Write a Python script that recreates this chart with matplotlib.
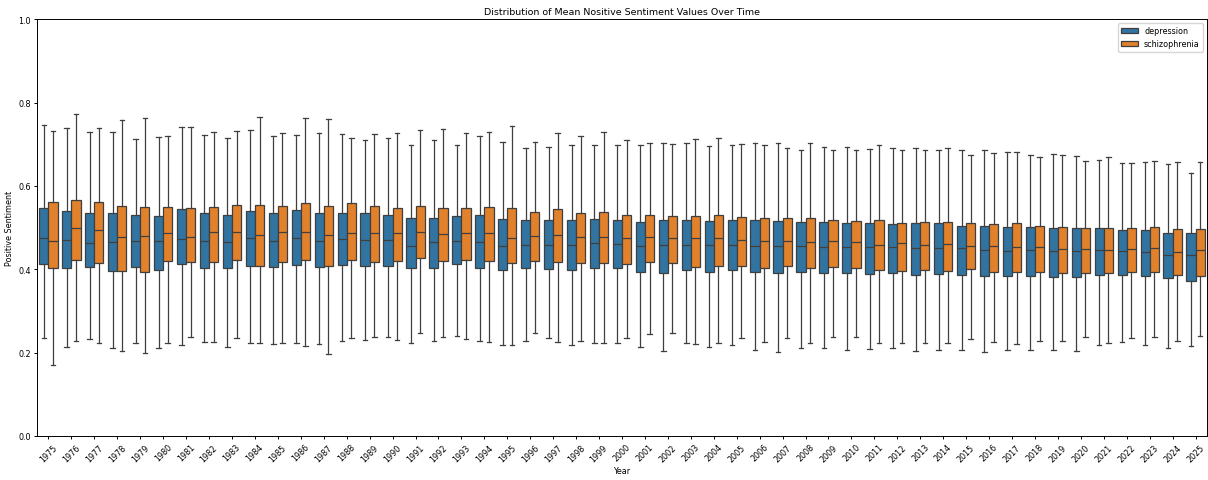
import matplotlib
matplotlib.use("Agg")
import matplotlib.pyplot as plt
from matplotlib.patches import Patch
import numpy as np

years = list(range(1975, 2026))

# depression: whisker low, Q1, median, Q3, whisker high
dep_lo = [0.236, 0.214, 0.233, 0.212, 0.224, 0.210, 0.218, 0.226, 0.214, 0.222,
          0.220, 0.223, 0.220, 0.228, 0.230, 0.238, 0.224, 0.229, 0.241, 0.227,
          0.218, 0.227, 0.234, 0.219, 0.223, 0.224, 0.213, 0.205, 0.224, 0.213,
          0.218, 0.207, 0.202, 0.211, 0.211, 0.206, 0.208, 0.210, 0.203, 0.207,
          0.207, 0.202, 0.207, 0.207, 0.206, 0.205, 0.218, 0.226, 0.218, 0.210,
          0.215]
dep_q1 = [0.412, 0.404, 0.406, 0.397, 0.405, 0.398, 0.413, 0.404, 0.403, 0.409,
          0.406, 0.410, 0.405, 0.410, 0.409, 0.407, 0.403, 0.402, 0.412, 0.403,
          0.398, 0.402, 0.401, 0.398, 0.402, 0.402, 0.394, 0.392, 0.398, 0.394,
          0.398, 0.394, 0.390, 0.393, 0.392, 0.390, 0.389, 0.390, 0.387, 0.389,
          0.386, 0.383, 0.383, 0.385, 0.382, 0.382, 0.386, 0.387, 0.384, 0.378,
          0.373]
dep_med = [0.476, 0.471, 0.463, 0.465, 0.469, 0.469, 0.473, 0.467, 0.466, 0.475,
           0.468, 0.476, 0.469, 0.472, 0.471, 0.470, 0.457, 0.466, 0.467, 0.465,
           0.457, 0.458, 0.458, 0.458, 0.463, 0.460, 0.457, 0.459, 0.459, 0.459,
           0.459, 0.456, 0.455, 0.456, 0.454, 0.454, 0.454, 0.454, 0.452, 0.452,
           0.450, 0.447, 0.445, 0.446, 0.445, 0.445, 0.446, 0.445, 0.442, 0.434,
           0.434]
dep_q3 = [0.548, 0.539, 0.536, 0.534, 0.531, 0.529, 0.545, 0.536, 0.531, 0.539,
          0.534, 0.542, 0.534, 0.536, 0.534, 0.531, 0.522, 0.523, 0.528, 0.530,
          0.520, 0.518, 0.518, 0.518, 0.521, 0.519, 0.514, 0.518, 0.519, 0.515,
          0.518, 0.518, 0.515, 0.514, 0.513, 0.512, 0.510, 0.509, 0.510, 0.510,
          0.505, 0.504, 0.502, 0.502, 0.499, 0.499, 0.498, 0.495, 0.494, 0.487,
          0.486]
dep_hi = [0.747, 0.738, 0.730, 0.730, 0.713, 0.718, 0.742, 0.723, 0.716, 0.734,
          0.720, 0.722, 0.727, 0.724, 0.711, 0.716, 0.699, 0.709, 0.698, 0.720,
          0.705, 0.691, 0.694, 0.697, 0.698, 0.699, 0.697, 0.703, 0.702, 0.696,
          0.699, 0.703, 0.704, 0.687, 0.694, 0.693, 0.689, 0.690, 0.690, 0.686,
          0.685, 0.686, 0.681, 0.674, 0.677, 0.672, 0.662, 0.656, 0.658, 0.653,
          0.632]

# schizophrenia
sch_lo = [0.171, 0.229, 0.223, 0.203, 0.198, 0.224, 0.238, 0.225, 0.234, 0.223,
          0.222, 0.217, 0.196, 0.234, 0.238, 0.230, 0.246, 0.238, 0.233, 0.226,
          0.218, 0.246, 0.226, 0.228, 0.223, 0.235, 0.245, 0.248, 0.221, 0.222,
          0.235, 0.226, 0.235, 0.222, 0.238, 0.238, 0.223, 0.224, 0.224, 0.222,
          0.233, 0.226, 0.220, 0.229, 0.228, 0.238, 0.222, 0.236, 0.238, 0.228,
          0.240]
sch_q1 = [0.402, 0.422, 0.414, 0.395, 0.394, 0.420, 0.417, 0.418, 0.422, 0.408,
          0.417, 0.422, 0.409, 0.423, 0.418, 0.421, 0.428, 0.421, 0.422, 0.421,
          0.415, 0.421, 0.418, 0.414, 0.414, 0.412, 0.418, 0.414, 0.405, 0.408,
          0.407, 0.404, 0.408, 0.404, 0.406, 0.404, 0.399, 0.397, 0.399, 0.396,
          0.400, 0.393, 0.394, 0.393, 0.390, 0.392, 0.390, 0.393, 0.394, 0.387,
          0.385]
sch_med = [0.469, 0.498, 0.494, 0.477, 0.481, 0.486, 0.477, 0.490, 0.490, 0.483,
           0.490, 0.490, 0.483, 0.488, 0.486, 0.486, 0.489, 0.485, 0.487, 0.488,
           0.476, 0.481, 0.483, 0.478, 0.478, 0.474, 0.478, 0.475, 0.474, 0.476,
           0.470, 0.467, 0.469, 0.466, 0.469, 0.465, 0.459, 0.462, 0.459, 0.461,
           0.457, 0.456, 0.454, 0.454, 0.449, 0.449, 0.447, 0.449, 0.451, 0.442,
           0.447]
sch_q3 = [0.562, 0.567, 0.561, 0.552, 0.549, 0.550, 0.547, 0.550, 0.555, 0.554,
          0.553, 0.558, 0.552, 0.558, 0.551, 0.546, 0.551, 0.546, 0.547, 0.549,
          0.546, 0.538, 0.544, 0.535, 0.538, 0.531, 0.531, 0.528, 0.529, 0.531,
          0.525, 0.522, 0.523, 0.523, 0.518, 0.516, 0.518, 0.512, 0.514, 0.514,
          0.510, 0.508, 0.510, 0.505, 0.502, 0.500, 0.500, 0.498, 0.501, 0.496,
          0.497]
sch_hi = [0.732, 0.773, 0.739, 0.758, 0.763, 0.720, 0.741, 0.730, 0.732, 0.765,
          0.726, 0.763, 0.760, 0.715, 0.725, 0.726, 0.733, 0.736, 0.727, 0.730,
          0.744, 0.706, 0.727, 0.719, 0.729, 0.711, 0.702, 0.700, 0.713, 0.716,
          0.701, 0.698, 0.691, 0.702, 0.685, 0.686, 0.699, 0.685, 0.686, 0.691,
          0.674, 0.679, 0.682, 0.670, 0.673, 0.660, 0.670, 0.654, 0.660, 0.658,
          0.658]

groups = ["depression", "schizophrenia"]
colors = ["#3274a1", "#e1812c"]
line_color = "#3f3f3f"


def make_stats(lo, q1, med, q3, hi):
    return [dict(whislo=a, q1=b, med=c, q3=d, whishi=e)
            for a, b, c, d, e in zip(lo, q1, med, q3, hi)]


series = [
    make_stats(dep_lo, dep_q1, dep_med, dep_q3, dep_hi),
    make_stats(sch_lo, sch_q1, sch_med, sch_q3, sch_hi),
]

fig, ax = plt.subplots(figsize=(12.08, 4.81), dpi=100)
fig.subplots_adjust(left=0.0306, right=0.9992, top=0.958, bottom=0.0915)

x = np.arange(len(years))
width = 0.4
offsets = [-0.2, 0.2]
lw = 0.9
for stats, off, col in zip(series, offsets, colors):
    ax.bxp(stats, positions=x + off, widths=width, patch_artist=True,
           showfliers=False, manage_ticks=False,
           boxprops=dict(facecolor=col, edgecolor=line_color, linewidth=lw),
           medianprops=dict(color=line_color, linewidth=lw),
           whiskerprops=dict(color=line_color, linewidth=lw),
           capprops=dict(color=line_color, linewidth=lw))

ax.set_xlim(-0.5, len(years) - 0.5)
ax.set_ylim(0, 1.0)
ax.set_xticks(x)
ax.set_xticklabels(years, rotation=45)
ax.set_yticks(np.arange(0, 1.01, 0.2))
ax.tick_params(labelsize=5.8, length=2.5, width=0.7, pad=2)
for sp in ax.spines.values():
    sp.set_linewidth(0.7)

ax.set_title("Distribution of Mean Nositive Sentiment Values Over Time",
             fontsize=6.8, pad=4)
ax.set_xlabel("Year", fontsize=5.8, labelpad=2)
ax.set_ylabel("Positive Sentiment", fontsize=5.8, labelpad=3)

handles = [Patch(facecolor=c, edgecolor=line_color, linewidth=lw, label=g)
           for g, c in zip(groups, colors)]
ax.legend(handles=handles, loc="upper right", fontsize=5.8)

fig.savefig("out.png", dpi=100)
